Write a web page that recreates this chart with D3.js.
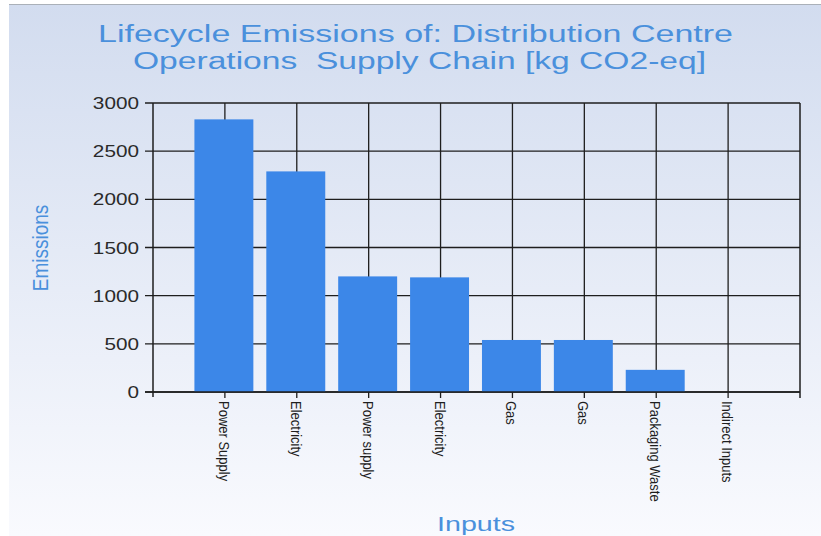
<!DOCTYPE html>
<html><head><meta charset="utf-8">
<script src="https://cdn.jsdelivr.net/npm/d3@7"></script>
<style>html,body{margin:0;padding:0;background:#fff;}svg{display:block;}</style>
</head><body>
<script>
const categories = ["Power Supply","Electricity","Power supply","Electricity","Gas","Gas","Packaging Waste","Indirect Inputs"];
const values = [2830, 2290, 1200, 1190, 540, 540, 230, 0];
const yTicks = [0, 500, 1000, 1500, 2000, 2500, 3000];
const titleLines = ["Lifecycle Emissions of: Distribution Centre", "Operations  Supply Chain [kg CO2-eq]"];
const xTitle = "Inputs", yTitle = "Emissions";

const W = 821, H = 536;
const svg = d3.select("body").append("svg").attr("width", W).attr("height", H);
const defs = svg.append("defs");
const g = defs.append("linearGradient").attr("id","bg").attr("x1",0).attr("y1",0).attr("x2",0).attr("y2",1);
g.append("stop").attr("offset","0%").attr("stop-color","#d2dcef");
g.append("stop").attr("offset","100%").attr("stop-color","#f9fafe");
svg.append("rect").attr("x",9).attr("y",4).attr("width",W-9).attr("height",H-4).attr("fill","url(#bg)");
svg.append("line").attr("x1",9).attr("x2",W).attr("y1",4.5).attr("y2",4.5).attr("stroke","#aab0b8").attr("stroke-width",1);

const L = 153, R = 800, T = 103, B = 392;
const x = d3.scaleLinear().domain([0, categories.length + 1]).range([L, R]);
const y = d3.scaleLinear().domain([0, 3000]).range([B, T]);
const unit = x(1) - x(0);
const barW = unit * 0.82;
const ink = "#1e1e1e";

// horizontal grid
svg.append("g").selectAll("line").data(yTicks).join("line")
  .attr("x1", L - 8).attr("x2", R).attr("y1", d => y(d)).attr("y2", d => y(d))
  .attr("stroke", ink).attr("stroke-width", 1.3);
// vertical grid at categories
svg.append("g").selectAll("line").data(categories).join("line")
  .attr("x1", (d,i) => x(i+1)).attr("x2", (d,i) => x(i+1))
  .attr("y1", T).attr("y2", B + 6)
  .attr("stroke", ink).attr("stroke-width", 1.3);
// bars
svg.append("g").selectAll("rect").data(values).join("rect")
  .attr("x", (d,i) => x(i+1) - barW/2 - 1).attr("width", barW)
  .attr("y", d => y(d)).attr("height", d => y(0) - y(d))
  .attr("fill", "#3c87e8");
// axes/frame
svg.append("line").attr("x1", L).attr("x2", L).attr("y1", T).attr("y2", B + 5).attr("stroke", ink).attr("stroke-width", 1.5);
svg.append("line").attr("x1", R).attr("x2", R).attr("y1", T).attr("y2", B + 6).attr("stroke", ink).attr("stroke-width", 1.5);
svg.append("line").attr("x1", L - 8).attr("x2", R).attr("y1", B).attr("y2", B).attr("stroke", ink).attr("stroke-width", 1.5);

// y tick labels
svg.append("g").selectAll("text").data(yTicks).join("text")
  .attr("transform", d => `translate(${L - 14},${y(d) + 6}) scale(1.22,1)`)
  .attr("text-anchor", "end")
  .attr("font-family", "Liberation Sans, Arial, sans-serif").attr("font-size", 17)
  .attr("fill", "#2a2a2a").text(d => d);

// x tick labels
svg.append("g").selectAll("text").data(categories).join("text")
  .attr("transform", (d,i) => `translate(${x(i+1) - 6},${B + 9}) rotate(90) scale(1,1.15)`)
  .attr("text-anchor", "start")
  .attr("font-family", "Liberation Sans Narrow, Liberation Sans, Arial, sans-serif").attr("font-size", 13)
  .attr("fill", "#1e1e1e").text(d => d);

// title
const tcol = "#4a90dc";
svg.append("g").selectAll("text").data(titleLines).join("text")
  .attr("x", (d,i) => i === 0 ? 98 : 133).attr("y", (d,i) => 42 + i * 27)
  .attr("textLength", (d,i) => i === 0 ? 635 : 573).attr("lengthAdjust", "spacingAndGlyphs")
  .style("white-space", "pre").attr("xml:space", "preserve")
  .attr("font-family", "Liberation Sans, Arial, sans-serif").attr("font-size", 23)
  .attr("fill", tcol).text(d => d);

// axis titles
svg.append("text").attr("x", 437).attr("y", 531)
  .attr("textLength", 78).attr("lengthAdjust", "spacingAndGlyphs")
  .attr("font-family", "Liberation Sans, Arial, sans-serif").attr("font-size", 20)
  .attr("fill", tcol).text(xTitle);
svg.append("text").attr("transform", "translate(48,248) rotate(-90) scale(1,1.2)")
  .attr("text-anchor", "middle")
  .attr("font-family", "Liberation Sans, Arial, sans-serif").attr("font-size", 19)
  .attr("fill", tcol).text(yTitle);
</script>
</body></html>
